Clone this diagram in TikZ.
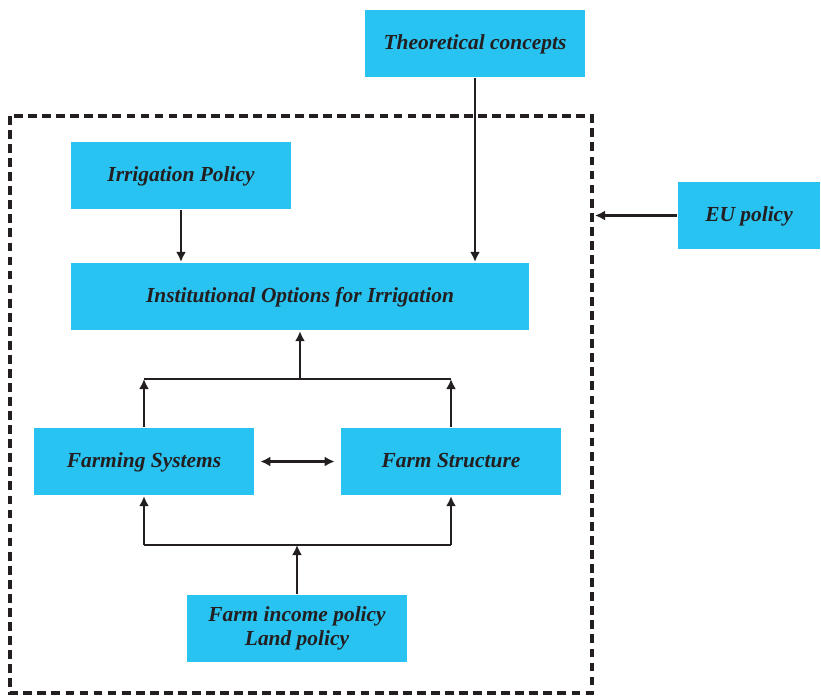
\documentclass[tikz,border=0pt]{standalone}
\usepackage{fontspec}
\setmainfont{Liberation Serif}
\usepackage{xcolor}
\usetikzlibrary{arrows.meta}
\definecolor{boxblue}{HTML}{28C3F1}
\definecolor{ink}{HTML}{231F20}
\tikzset{box/.style={fill=boxblue, text=ink, minimum width=4.4cm, minimum height=1.34cm, inner sep=0pt, align=center, text height=2.1ex, text depth=0.5ex, font=\fontsize{12.2}{13.6}\selectfont\bfseries\itshape}}
\tikzset{frame/.style={line width=1.8pt, dash pattern=on 5pt off 3pt}}

\begin{document}
\begin{tikzpicture}[x=0.02cm, y=-0.02cm, line width=1.3pt, draw=ink, >={Latex[length=2mm, width=2mm]}]
\useasboundingbox (0, 0) rectangle (821, 698);
\draw [frame](10, 116) rectangle (592, 693);
\node [box](theory) at (475, 43){Theoretical concepts};
\node [box](irrpol) at (181, 175.5){Irrigation Policy};
\node [box, minimum width=2.84cm](eupol) at (749, 215.5){EU policy};
\node [box, minimum width=9.16cm](instopt) at (300, 296.5){Institutional Options for Irrigation};
\node [box](farmsys) at (144, 461.5){Farming Systems};
\node [box](farmstr) at (451, 461.5){Farm Structure};
\node [box, text height=, text depth=](income) at (297, 628.5){Farm income policy\\Land policy};
\coordinate (eudash) at (595, 215.5);
\coordinate (topl) at (144, 379);
\coordinate (topr) at (451, 379);
\coordinate (botl) at (144, 545);
\coordinate (botr) at (451, 545);
\draw [->](theory.south) -- (theory.south |- instopt.north);
\draw [->](irrpol.south) -- (irrpol.south |- instopt.north);
\draw [->](eupol.west) -- (eudash);
\draw (topl) -- (topr);
\draw [->](instopt.south |- topl) -- (instopt.south);
\draw [->](farmsys.north) -- (topl);
\draw [->](farmstr.north) -- (topr);
\draw [<->, shorten <=3pt, shorten >=3pt](farmsys.east) -- (farmstr.west);
\draw (botl) -- (botr);
\draw [->](botl) -- (farmsys.south);
\draw [->](botr) -- (farmstr.south);
\draw [->](income.north) -- (income.north |- botl);
\end{tikzpicture}
\end{document}
